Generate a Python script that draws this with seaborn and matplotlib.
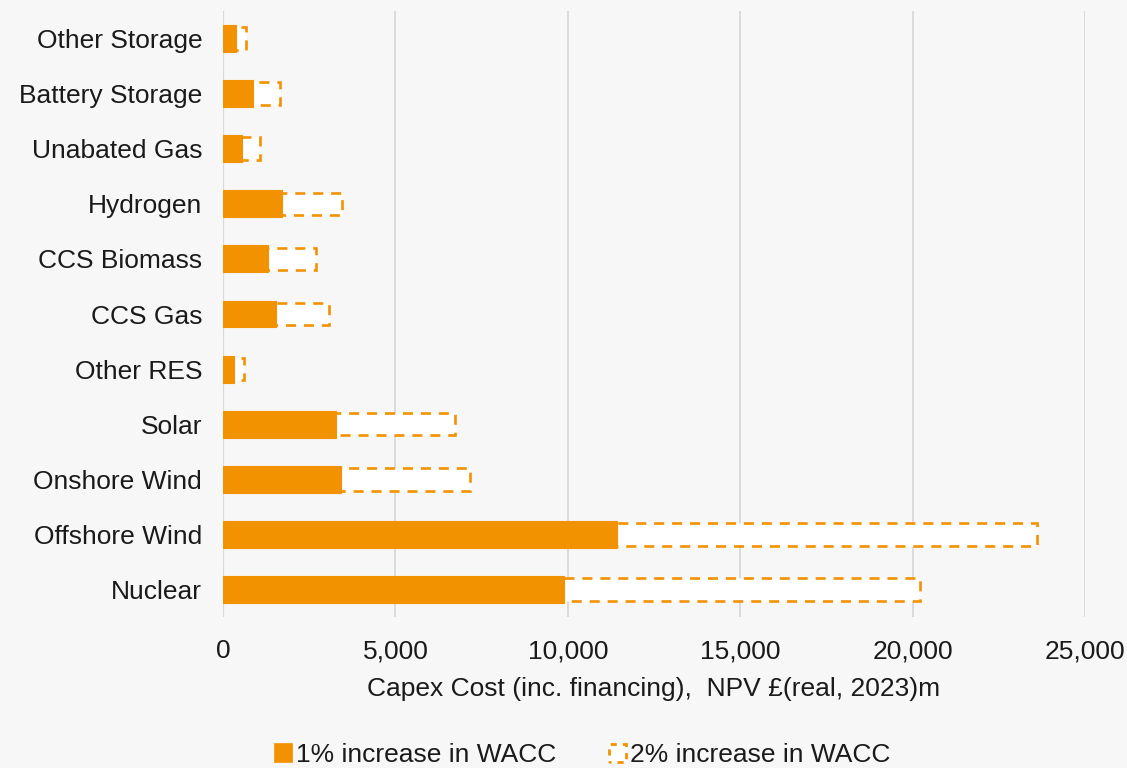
import matplotlib
matplotlib.use("Agg")
import matplotlib.pyplot as plt
from matplotlib.patches import Patch
from matplotlib.ticker import FuncFormatter
import seaborn as sns
import pandas as pd

# Technologies (top to bottom) and capex cost (inc. financing), NPV £(real, 2023)m
technologies = ["Other Storage", "Battery Storage", "Unabated Gas", "Hydrogen",
                "CCS Biomass", "CCS Gas", "Other RES", "Solar", "Onshore Wind",
                "Offshore Wind", "Nuclear"]
wacc_1pct = [380, 860, 550, 1700, 1310, 1540, 320, 3270, 3420, 11430, 9880]
wacc_2pct = [660, 1650, 1070, 3450, 2690, 3080, 600, 6740, 7170, 23620, 20210]
x_ticks = [0, 5000, 10000, 15000, 20000, 25000]

ORANGE = "#f39200"
BG = "#f7f7f7"
GRID = "#d9d9d9"
TEXT = "#1a1a1a"
FS = 19

sns.set_theme(style="whitegrid")
plt.rcParams["font.family"] = ["Liberation Sans", "DejaVu Sans"]

df = pd.DataFrame({"tech": technologies, "one": wacc_1pct, "two": wacc_2pct})

fig = plt.figure(figsize=(11.27, 7.68), dpi=100, facecolor=BG)
ax = fig.add_axes([223 / 1127, 1 - 617 / 768, (1085 - 223) / 1127, (617 - 11) / 768])
ax.set_facecolor(BG)

# 2% case: white fill, dashed orange outline
sns.barplot(data=df, y="tech", x="two", order=technologies, orient="h",
            color="white", width=0.41, ax=ax, zorder=2,
            edgecolor=ORANGE, linewidth=1.9, linestyle=(0, (3.8, 3.0)))
# 1% case: solid orange on top
sns.barplot(data=df, y="tech", x="one", order=technologies, orient="h",
            color=ORANGE, width=0.49, ax=ax, zorder=3,
            edgecolor=ORANGE, linewidth=0.8, saturation=1)

ax.set_xlim(0, 25000)
ax.set_xticks(x_ticks)
ax.xaxis.set_major_formatter(FuncFormatter(lambda v, p: f"{int(v):,}"))
ax.grid(axis="x", color=GRID, linewidth=1.3, zorder=0)
ax.grid(axis="y", visible=False)
for s in ax.spines.values():
    s.set_visible(False)
ax.axvline(0, color=GRID, linewidth=1.6, zorder=1)

ax.tick_params(axis="y", length=0, pad=15, labelsize=FS, labelcolor=TEXT)
ax.tick_params(axis="x", length=0, pad=16, labelsize=FS, labelcolor=TEXT)
ax.set_ylabel("")
ax.set_xlabel("Capex Cost (inc. financing),  NPV £(real, 2023)m",
              fontsize=FS, color=TEXT, labelpad=10)

handles = [
    Patch(facecolor=ORANGE, edgecolor=ORANGE, linewidth=1.2),
    Patch(facecolor="white", edgecolor=ORANGE, linewidth=2.0, linestyle=(1.5, (2.2, 2.2))),
]
fig.legend(handles, ["1% increase in WACC", "2% increase in WACC"],
           loc="center", bbox_to_anchor=(583 / 1127, 1 - 755 / 768), ncol=2,
           frameon=False, fontsize=FS, labelcolor=TEXT, handlelength=0.65,
           handleheight=0.65, handletextpad=0.15, columnspacing=2.0)

fig.savefig("out.png", dpi=100, facecolor=BG)
